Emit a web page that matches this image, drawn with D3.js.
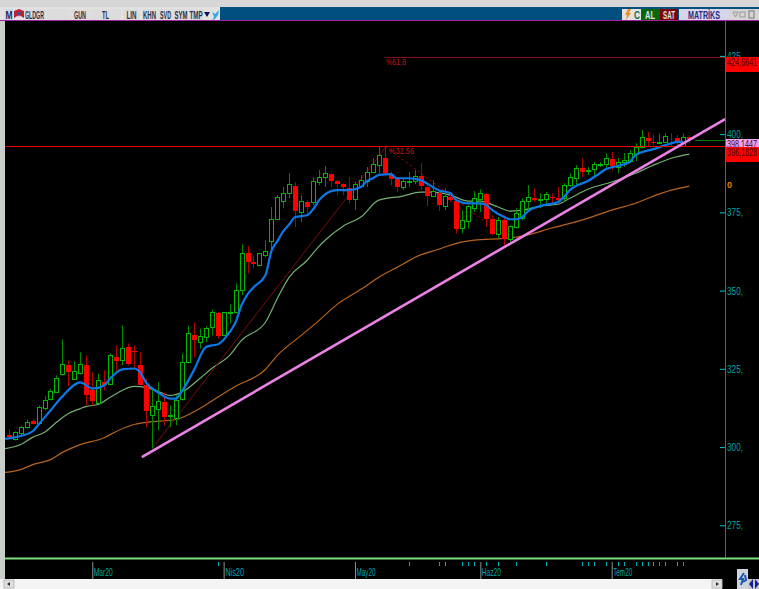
<!DOCTYPE html>
<html>
<head>
<meta charset="utf-8">
<script src="https://cdnjs.cloudflare.com/ajax/libs/d3/7.8.5/d3.min.js"></script>
<style>
  html, body { margin: 0; padding: 0; background: #000; overflow: hidden; }
  svg { display: block; }
  text { font-family: "Liberation Sans", sans-serif; }
</style>
</head>
<body>
<div id="chart"></div>
<script>
// daily candles (bar index = position in the array)
let opens = [304.3,302.4,304.3,306.3,308.5,307.5,312.7,315.2,317.8,323.2,326.4,321.6,323.5,326.4,318.4,313.9,321.0,320.0,329.0,327.7,332.2,330.9,326.7,320.3,310.1,312.0,314.6,309.8,309.5,315.2,327.1,336.0,333.5,335.1,338.3,343.1,335.7,342.7,343.1,350.1,362.2,359.4,358.1,361.3,365.8,372.8,378.6,381.1,383.7,375.1,378.6,378.3,384.7,386.3,387.5,385.3,384.3,383.1,379.2,383.4,385.0,387.9,390.1,392.7,387.5,385.9,383.1,384.7,385.0,386.9,383.4,380.2,381.5,377.0,380.2,378.9,369.9,372.2,376.3,379.2,381.1,373.1,368.0,372.8,366.4,370.3,373.1,378.6,379.9,378.9,379.2,380.2,379.9,379.5,383.7,385.9,389.5,388.2,388.8,390.1,390.4,392.3,389.5,391.1,391.4,393.6,395.9,399.1,397.8,397.1,397.5,397.5,399.1,396.1,399.4]
let highs = [305.6,305.0,306.9,308.8,308.8,313.3,316.2,318.7,322.9,334.4,327.7,327.4,330.3,329.3,323.9,323.5,324.5,329.9,332.5,338.9,333.1,332.5,330.3,321.9,318.7,320.7,317.5,313.3,316.5,329.9,338.9,339.9,337.9,338.6,344.0,343.1,343.1,345.6,352.3,364.8,364.2,361.3,361.9,366.1,376.7,380.5,383.1,387.5,384.7,380.5,378.9,386.3,388.5,389.8,387.5,385.3,384.3,386.3,384.7,386.9,389.5,392.3,396.2,395.9,387.9,386.3,385.9,387.9,388.5,390.7,384.4,385.3,382.1,382.7,381.1,378.9,375.7,377.3,381.8,382.4,381.1,374.1,373.5,374.1,370.9,376.3,379.5,383.7,382.7,381.1,381.5,381.1,383.1,384.3,387.5,390.1,392.3,389.5,391.1,391.1,393.9,394.3,392.3,393.9,394.9,397.1,401.3,400.7,399.7,400.3,400.3,400.3,399.7,400.3,399.7]
let lows = [302.7,302.1,303.7,305.9,307.2,307.2,311.7,314.9,317.5,322.9,319.4,321.6,323.2,313.3,313.3,313.9,318.1,319.7,323.9,326.1,326.1,325.1,319.7,306.3,299.5,305.3,306.9,306.3,306.9,314.9,326.7,328.7,331.5,333.5,335.7,334.7,335.7,339.5,342.7,348.5,355.5,357.1,357.8,360.7,362.9,372.5,376.3,379.5,370.3,371.9,374.1,377.3,383.7,383.1,383.1,380.5,380.5,377.9,375.7,382.7,383.1,387.5,387.5,386.9,383.7,381.5,382.1,383.1,384.0,382.1,377.0,379.9,375.4,375.7,378.3,368.3,368.3,369.9,375.1,375.1,370.3,367.7,366.7,364.5,365.5,369.9,372.5,375.7,378.3,376.3,377.3,377.9,377.9,378.3,383.1,383.1,386.3,386.9,385.9,389.5,389.1,388.5,387.5,389.5,390.7,391.4,395.5,395.9,396.5,396.8,397.1,395.9,396.5,395.9,397.3]
let closes = [303.4,304.7,306.3,307.9,307.5,312.7,315.2,317.8,322.2,326.4,323.9,324.2,326.4,316.5,314.6,321.3,320.0,329.3,327.7,331.5,326.7,330.6,320.3,311.7,313.0,314.6,309.8,310.1,315.2,327.1,336.3,334.1,335.4,337.9,343.1,335.7,343.1,343.1,350.1,361.9,359.1,358.7,361.9,362.6,372.8,379.9,381.1,384.0,375.4,378.6,376.7,385.0,386.3,387.5,385.0,384.3,383.1,379.2,384.0,385.3,387.9,390.4,393.3,387.9,385.9,383.1,385.0,385.0,386.6,383.7,380.5,381.8,377.6,380.2,379.2,369.9,372.5,377.0,379.5,381.1,373.1,368.3,372.5,366.7,370.6,374.7,378.6,379.9,379.2,379.2,380.8,379.9,379.2,383.7,386.3,389.1,388.2,388.5,390.4,390.4,392.3,389.8,391.1,391.7,393.9,395.9,399.1,398.1,397.5,397.5,399.4,397.1,397.5,399.1,398.7]

// moving averages: bars where they were read, and the value there
// (they run in from the left edge, just before the first candle)
let blueBars = [-0.6,1,4,5,7,9,12,13,14,16,17,19,21,22,23,25,27,28,29,31,33,34,35,37,38,39,40,41,43,44,45,46,47,48,50,51,52,54,55,57,59,60,61,62,64,65,67,69,70,72,74,75,77,79,80,81,83,84,85,86,87,89,92,93,94,95,97,99,100,102,104,105,106,108,110,112,113]
let blueVals = [302.6,303.1,305.0,307.2,311.7,316.2,320.7,319.7,318.7,319.7,321.9,324.8,325.1,323.9,320.7,317.5,315.5,315.5,317.8,324.5,331.9,332.5,332.8,336.7,339.9,345.3,348.8,351.0,354.9,362.6,365.8,369.0,371.2,373.5,374.1,376.0,378.9,381.8,382.1,382.1,383.1,385.0,385.9,387.0,387.2,385.9,385.9,385.3,384.3,382.1,381.1,378.9,377.9,377.9,377.3,375.7,373.5,372.8,372.8,373.5,375.4,377.0,378.3,379.9,382.1,383.4,385.0,387.5,388.8,389.8,391.1,393.3,394.2,395.2,396.5,397.5,397.6]
let greenBars = [-0.6,2,4,6,8,10,12,13,15,17,19,21,23,25,27,29,32,34,37,39,43,45,47,50,52,53,56,59,62,66,69,71,74,77,79,82,84,86,89,92,94,97,101,105,108,111,114]
let greenVals = [299.5,300.8,303.1,304.7,307.9,310.7,312.3,313.0,313.6,315.9,318.1,319.4,319.1,317.8,316.5,317.5,321.9,325.1,329.3,334.1,339.9,347.5,354.3,359.7,364.2,366.1,370.6,373.5,378.9,380.2,381.5,381.5,380.5,378.6,378.6,376.7,375.4,375.7,377.0,377.6,379.5,382.4,384.7,387.5,390.1,392.3,393.6]
let orangeBars = [-0.6,2,4,7,9,12,16,18,21,23,28,32,35,38,43,45,49,52,55,59,62,66,68,72,75,78,83,86,91,96,101,105,108,111,114]
let orangeVals = [291.9,292.8,294.4,296.0,298.3,300.8,303.0,305.0,307.2,307.9,308.8,312.3,315.9,319.4,324.8,329.3,335.7,340.5,345.6,350.4,354.3,358.4,360.6,363.2,365.1,366.1,366.7,367.4,370.0,372.5,375.7,377.9,380.2,382.1,383.4]

// drawn studies
let trendBars = [22.3, 120]
let trendVals = [296.8, 404.8]
let riseBars = [24, 63.2]
let riseVals = [299.5, 395.9]
let fallBars = [63.2, 84]
let fallVals = [395.9, 366.0]
let levelRed = 396.1828
let levelFibo = 424.6641
let levelGreen = 398.1447

// axis labels
let priceTicks = [275, 300, 325, 350, 375, 400, 425]
let monthBars = [14, 36, 58, 79, 101]
let monthLabels = ['Mar20', 'Nis20', 'May20', 'Haz20', 'Tem20']
let markerBars = [35,67,72,73,76,77,78,80,82,85,90,96,97,98,100,102,103,105,106,107,108,109,110,112,113]

// toolbar labels
let leftButtons = ['GLDGR', 'GUN', 'TL', 'LIN', 'KHN', 'SVD', 'SYM', 'TMP']
let leftStarts = [25, 71, 90, 123, 142, 158, 174, 189]
let leftWidths = [45, 18, 31, 17, 15, 15, 14, 14]
let leftTextWidths = [19, 12, 7, 10, 13, 11, 13, 13]

let svgWidth = 759
let svgHeight = 589

let plot = { left: 5, right: 725, top: 21, bottom: 557 }

let svg = d3.select('#chart')
    .append('svg')
    .attr('width', svgWidth)
    .attr('height', svgHeight)

// scales
let xScale = d3.scaleLinear().domain([0, 114]).range([8.7, 689.3])
let yScale = d3.scaleLinear().domain([275, 425]).range([525.3, 55.9])

// the chart font is narrower than anything installed, so squeeze to width
function squeeze(sel, len) {
    sel.attr('textLength', len).attr('lengthAdjust', 'spacingAndGlyphs')
}

// window frame
svg.append('rect').attr('width', svgWidth).attr('height', svgHeight).attr('fill', '#000')
svg.append('rect').attr('width', svgWidth).attr('height', 7).attr('fill', '#d6d6d6')
svg.append('rect').attr('y', 7).attr('width', svgWidth).attr('height', 13).attr('fill', '#00507f')
svg.append('rect').attr('y', 20).attr('width', svgWidth).attr('height', 1).attr('fill', '#a020a0')
svg.append('rect').attr('y', 21).attr('width', 5).attr('height', 558).attr('fill', '#c8cfc8')
svg.append('rect').attr('x', 5).attr('y', 557.5).attr('width', svgWidth).attr('height', 2).attr('fill', '#7fe07f')

function button(x, w, label, fill, color, textWidth) {
    svg.append('rect').attr('x', x).attr('y', 9).attr('width', w).attr('height', 11).attr('fill', fill)
    svg.append('text').attr('x', x + w / 2).attr('y', 18.5)
        .attr('text-anchor', 'middle')
        .attr('font-size', 11).attr('font-weight', 'bold')
        .attr('fill', color).text(label)
        .call(squeeze, textWidth)
}

// left toolbar
svg.append('rect').attr('x', 0).attr('y', 7).attr('width', 220).attr('height', 13).attr('fill', '#e2e2e2')
button(5, 8, 'M', '#c4d8ec', '#1a2a70', 7)
svg.append('path').attr('d', 'M14 18 L14 11 L19 9 L24 11 L24 18 L19 15 Z').attr('fill', '#c02030')
svg.append('path').attr('d', 'M17 12 L21 12 L19 17 Z').attr('fill', '#3050a0')
leftButtons.forEach((b, i) => {
    button(leftStarts[i], leftWidths[i], b, '#dcdcdc', '#25304a', leftTextWidths[i])
})
// GLDGR sits at the left of its button
svg.selectAll('text').filter(function() { return d3.select(this).text() === 'GLDGR' })
    .attr('x', 25).attr('text-anchor', 'start')
svg.append('path').attr('d', 'M204 12 L210 12 L207 17 Z').attr('fill', '#10105a')
svg.append('path').attr('d', 'M212 12 L215 14 L219 10 L218 15 L215 19 L212 20 L214 17 Z').attr('fill', '#35a8e8')

// right toolbar
svg.append('rect').attr('x', 622).attr('y', 9).attr('width', 20).attr('height', 11).attr('fill', '#e2e2e2')
svg.append('path').attr('d', 'M628 9 L631 9 L629 13 L631 13 L626 20 L627 15 L625 15 Z').attr('fill', '#e89020')
svg.append('text').attr('x', 637).attr('y', 18.5).attr('text-anchor', 'middle')
    .attr('font-size', 11).attr('font-weight', 'bold').attr('fill', '#107050').text('C').call(squeeze, 6)
button(641, 18, 'AL', '#086808', '#e0e0e0', 10)
button(660, 18, 'SAT', '#7a0505', '#e0e0e0', 12)
button(679, 50, 'MATRİKS', '#d6d6ea', '#2a2a80', 32)
svg.append('rect').attr('x', 729).attr('y', 9).attr('width', 30).attr('height', 11).attr('fill', '#d6d6d6')
svg.append('rect').attr('x', 740).attr('y', 12).attr('width', 5).attr('height', 5).attr('fill', 'none').attr('stroke', '#999')
svg.append('rect').attr('x', 749).attr('y', 11).attr('width', 5).attr('height', 7).attr('fill', 'none').attr('stroke', '#777')
svg.append('path').attr('d', 'M733 12 L738 12 L735.5 17 Z').attr('fill', 'none').attr('stroke', '#999')

// moving averages under the candles
function avgLine(bars, vals) {
    return d3.line()
        .x((d, i) => xScale(bars[i]))
        .y((d, i) => yScale(vals[i]))
        .curve(d3.curveMonotoneX)(vals)
}

svg.append('path').attr('d', avgLine(orangeBars, orangeVals))
    .attr('fill', 'none').attr('stroke', '#b8641c').attr('stroke-width', 1.2)
svg.append('path').attr('d', avgLine(greenBars, greenVals))
    .attr('fill', 'none').attr('stroke', '#74b074').attr('stroke-width', 1.2)

// dark red diagonal and its dashed retrace
svg.append('path').attr('d', avgLine(riseBars, riseVals))
    .attr('fill', 'none').attr('stroke', '#7a0c0c').attr('stroke-width', 1)
svg.append('path').attr('d', avgLine(fallBars, fallVals))
    .attr('fill', 'none').attr('stroke', '#a01010').attr('stroke-width', 1).attr('stroke-dasharray', '2,3')

// candles
let candles = d3.range(opens.length)

svg.append('g').selectAll('line')
    .data(candles)
    .join('line')
    .attr('x1', i => Math.round(xScale(i)) + 0.5)
    .attr('x2', i => Math.round(xScale(i)) + 0.5)
    .attr('y1', i => yScale(highs[i]))
    .attr('y2', i => yScale(lows[i]))
    .attr('stroke', i => closes[i] >= opens[i] ? '#008a00' : '#b00000')

svg.append('g').selectAll('rect')
    .data(candles)
    .join('rect')
    .attr('shape-rendering', 'crispEdges')
    .attr('x', i => Math.round(xScale(i)) - (closes[i] >= opens[i] ? 1.5 : 2))
    .attr('width', i => closes[i] >= opens[i] ? 4 : 5)
    .attr('y', i => Math.round(yScale(Math.max(opens[i], closes[i]))) + 0.5)
    .attr('height', i => Math.max(1, Math.abs(yScale(opens[i]) - yScale(closes[i]))))
    .attr('fill', i => closes[i] >= opens[i] ? '#000' : '#ff0000')
    .attr('stroke', i => closes[i] >= opens[i] ? '#00b800' : 'none')

// fast average on top of the candles
svg.append('path').attr('d', avgLine(blueBars, blueVals))
    .attr('fill', 'none').attr('stroke', '#0a78e6').attr('stroke-width', 2.2)
    .attr('stroke-linejoin', 'round')

// levels
function levelY(v) {
    return Math.round(yScale(v)) + 0.5
}
svg.append('line').attr('x1', plot.left).attr('x2', plot.right)
    .attr('y1', levelY(levelRed)).attr('y2', levelY(levelRed))
    .attr('stroke', '#f00000').attr('stroke-width', 1)
svg.append('line').attr('x1', xScale(63)).attr('x2', plot.right)
    .attr('y1', levelY(levelFibo)).attr('y2', levelY(levelFibo))
    .attr('stroke', '#8a1010').attr('stroke-width', 1)
svg.append('line').attr('x1', xScale(115)).attr('x2', plot.right)
    .attr('y1', levelY(levelGreen)).attr('y2', levelY(levelGreen))
    .attr('stroke', '#008000').attr('stroke-width', 1)

svg.append('text').attr('x', 386).attr('y', 65).attr('font-size', 9.5).attr('fill', '#c01818').text('%61,8').call(squeeze, 20)
svg.append('text').attr('x', 389).attr('y', 154).attr('font-size', 9.5).attr('fill', '#c01818').text('%32,56').call(squeeze, 25)

// trend line
svg.append('path').attr('d', avgLine(trendBars, trendVals))
    .attr('fill', 'none').attr('stroke', '#ec82e6').attr('stroke-width', 2.6)

// price axis
let yAxis = d3.axisRight(yScale)
    .tickValues(priceTicks)
    .tickFormat(d => d + ',')

let yAxisGroup = svg.append('g')
    .attr('transform', `translate(${plot.right},0)`)
    .call(yAxis)

yAxisGroup.select('.domain').remove()
yAxisGroup.selectAll('.tick line').attr('x2', -5).attr('stroke', '#00c8c8')
yAxisGroup.selectAll('.tick text')
    .attr('x', 2).attr('font-size', 11).attr('fill', '#00a0a0')
    .style('font-family', '"Liberation Sans", sans-serif')
    .call(squeeze, 16)

svg.append('line').attr('x1', plot.right + 0.5).attr('x2', plot.right + 0.5)
    .attr('y1', plot.top).attr('y2', plot.bottom).attr('stroke', '#008c8c')

// price tags on the axis
function priceTag(y, h, fill, value) {
    svg.append('rect').attr('x', plot.right + 1).attr('y', y)
        .attr('width', svgWidth - plot.right - 1).attr('height', h).attr('fill', fill)
    svg.append('text').attr('x', plot.right + 2).attr('y', y + 9)
        .attr('font-size', 10.5).attr('fill', '#4a0505').text(value.toFixed(4).replace('.', ','))
        .call(squeeze, 30)
}
priceTag(57, 15, '#ff0000', levelFibo)
priceTag(139, 8, '#f0a0f0', levelGreen)
priceTag(147, 15, '#ff0000', levelRed)

svg.append('text').attr('x', 727).attr('y', 188).attr('font-size', 9)
    .attr('font-weight', 'bold').attr('fill', '#e88000').text('0')

// date axis
let xAxis = d3.axisBottom(xScale)
    .tickValues(monthBars)
    .tickFormat((d, i) => monthLabels[i])

let xAxisGroup = svg.append('g')
    .attr('transform', 'translate(0,562)')
    .call(xAxis)

xAxisGroup.select('.domain').remove()
xAxisGroup.selectAll('.tick line').attr('y2', 17).attr('stroke', '#909090')
xAxisGroup.selectAll('.tick text')
    .attr('x', 1).attr('y', 7).attr('text-anchor', 'start')
    .attr('font-size', 10.5).attr('fill', '#00a8a8')
    .style('font-family', '"Liberation Sans", sans-serif')
    .call(squeeze, 19)

svg.append('g').selectAll('line')
    .data(markerBars)
    .join('line')
    .attr('x1', d => Math.round(xScale(d)) + 0.5)
    .attr('x2', d => Math.round(xScale(d)) + 0.5)
    .attr('y1', 562)
    .attr('y2', 566)
    .attr('stroke', '#00b0b0')

// scrollbar
svg.append('rect').attr('x', 0).attr('y', 579).attr('width', 722).attr('height', 10).attr('fill', '#f4f4f4')
svg.append('rect').attr('x', 4).attr('y', 580).attr('width', 10).attr('height', 8).attr('fill', '#e0e0e0').attr('stroke', '#bbb')
svg.append('path').attr('d', 'M10 582 L7 584 L10 586 Z').attr('fill', '#333')
svg.append('rect').attr('x', 712).attr('y', 580).attr('width', 10).attr('height', 8).attr('fill', '#e0e0e0').attr('stroke', '#bbb')
svg.append('path').attr('d', 'M716 582 L719 584 L716 586 Z').attr('fill', '#333')

// bottom right controls
svg.append('rect').attr('x', 737).attr('y', 569).attr('width', 11).attr('height', 20).attr('fill', '#cfd4dc')
svg.append('path').attr('d', 'M744 573 L740 579 L743 579 L741 585 M745 575 L746 580 L743 582')
    .attr('fill', 'none').attr('stroke', '#1858b0').attr('stroke-width', 2)
svg.append('rect').attr('x', 748).attr('y', 579).attr('width', 11).attr('height', 10).attr('fill', '#c8c8c8')
svg.append('path').attr('d', 'M753 579 L749 584 L753 589 Z').attr('fill', '#10209a')
svg.append('path').attr('d', 'M755 579 L759 584 L755 589 Z').attr('fill', '#10209a')
</script>
</body>
</html>
